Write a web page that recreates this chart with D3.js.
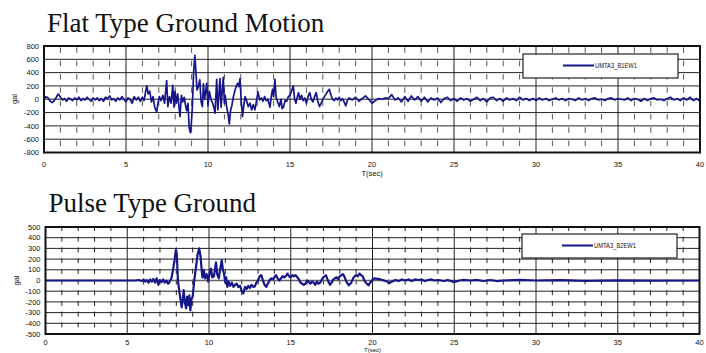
<!DOCTYPE html>
<html>
<head>
<meta charset="utf-8">
<script src="https://cdn.jsdelivr.net/npm/d3@7"></script>
<style>
  body { margin: 0; background: #fff; }
  svg { display: block; }
</style>
</head>
<body>
<svg id="chart" width="706" height="353"></svg>
<script>
// ---- data (gal) ----
const xTicks = [0, 5, 10, 15, 20, 25, 30, 35, 40];
const flatYTicks = [-800, -600, -400, -200, 0, 200, 400, 600, 800];
const pulseYTicks = [-500, -400, -300, -200, -100, 0, 100, 200, 300, 400, 500];

// flat type: 0 .. 6 s, every 0.125 s
const flatStartStep = 0.125;
const flatStart = [0, 40, 20, -30, -50, -20, 30, 80, 30, -10, 10, -30, 20, 0, -20, 20,
  -10, 30, -20, 10, -10, 30, 0, -30, 20, -10, 20, -20, 10, -30, 30, 10,
  50, -10, 10, -30, 20, -10, 40, 0, -40, 20, 0, -60, 40, -10, 30, -30, 30];

// flat type: strong part, [t, gal]
const flatActive = [
  [6.1, -20], [6.2, 120], [6.27, 200], [6.35, 80], [6.45, 120], [6.55, -40], [6.65, 40],
  [6.75, -120], [6.87, -190], [6.95, -60], [7.03, 40], [7.13, -20], [7.25, 60], [7.35, -60],
  [7.48, 280], [7.55, -110], [7.65, 40], [7.75, -60], [7.85, 210], [7.93, -120], [7.99, 120],
  [8.07, -60], [8.15, 80], [8.29, -260], [8.38, 60], [8.45, -40], [8.55, 30], [8.62, -80],
  [8.7, -170], [8.78, -60], [8.85, -420], [8.92, -500], [8.98, -380], [9.05, -100], [9.12, 400],
  [9.2, 660], [9.27, 380], [9.33, 140], [9.4, 180], [9.5, 290], [9.58, -40], [9.66, -110],
  [9.72, 230], [9.8, 0], [9.92, 240], [10.0, -100], [10.08, 120], [10.18, 0], [10.28, -60],
  [10.36, -120], [10.43, -210], [10.53, 300], [10.6, -160], [10.66, 40], [10.73, 310],
  [10.8, -120], [10.86, 100], [10.93, 330], [11.0, -60], [11.05, 60], [11.14, -120],
  [11.22, -220], [11.3, -370], [11.38, -160], [11.45, -100], [11.55, 40], [11.65, 140],
  [11.72, 190], [11.8, 240], [11.88, 190], [11.95, 310], [12.02, 0], [12.1, -260],
  [12.18, -100], [12.26, 40], [12.35, -20], [12.45, -110], [12.56, -60], [12.66, -160],
  [12.76, -80], [12.86, -160], [12.96, -20], [13.05, 110], [13.15, -10], [13.25, 20],
  [13.35, -30], [13.45, 40], [13.55, -20], [13.65, 0], [13.78, -120], [13.87, 60],
  [13.94, 150], [14.0, 40], [14.08, 300], [14.15, 30], [14.25, -40], [14.35, -110],
  [14.45, 0], [14.52, -140], [14.6, -120], [14.7, -20], [14.8, -30], [14.9, 40], [15.0, 60],
  [15.1, 130], [15.2, 200], [15.28, 0], [15.36, -60], [15.45, 40], [15.52, 100], [15.6, 0],
  [15.7, 60], [15.8, -20], [15.9, 20], [16.0, -60], [16.1, 40], [16.2, 100], [16.3, 0],
  [16.4, -40], [16.5, 40], [16.6, 100], [16.68, -20], [16.8, -110], [16.9, -60], [17.0, 0],
  [17.1, 40], [17.2, 80], [17.3, 120], [17.4, 150], [17.5, 60], [17.6, 0], [17.7, -20],
  [17.8, 20], [17.9, -10], [18.0, 30], [18.1, -20], [18.2, 10], [18.3, -40], [18.4, -100],
  [18.5, -20]
];

// flat type: tail from 18.6 s, every 0.2 s
const flatTailStart = 18.6;
const flatTailStep = 0.2;
const flatTail = [20, -10, 30, -30, 10, 50, 0, -60, -20, 10, 0, 20, 10, 70, -10, 20,
  -40, 40, -30, 50, -10, 40, -30, 30, -40, 20, -10, 20, -50, 10, 30, -20,
  10, -30, 20, -10, 10, -30, 0, 30, -20, 10, -40, 20, 30, -20, 10, -30,
  20, -10, 10, -20, 30, -10, 10, -20, 10, -20, 20, -10, 10, -20, 0, 20,
  -10, 10, -20, 10, 0, -20, 20, -10, 10, -20, 10, 20, -10, 0, -20, 10,
  20, -10, 10, 0, -10, 20, -20, 10, 0, -30, 10, -20, 10, 20, -10, 0,
  -20, 10, 30, -10, 10, -20, 20, -10, 30, -20, 10, -30];

// pulse type, [t, gal]
const pulseSeries = [
  [0, 0], [5.5, 0], [5.7, 5], [5.9, -5], [6.0, 10], [6.1, -10], [6.2, 5], [6.3, -20],
  [6.4, 10], [6.5, -10], [6.6, 15], [6.7, -20], [6.8, 20], [6.9, -40], [7.0, 5], [7.1, -15],
  [7.2, 10], [7.3, -20], [7.4, 0], [7.5, -30], [7.6, -10], [7.7, 20], [7.8, 100], [7.9, 200],
  [7.98, 290], [8.03, 250], [8.1, 0], [8.2, -120], [8.33, -250], [8.4, -180], [8.45, -90],
  [8.52, -200], [8.6, -260], [8.66, -150], [8.72, -230], [8.8, -140], [8.86, -280],
  [8.92, -180], [9.0, -150], [9.1, 0], [9.2, 120], [9.3, 240], [9.4, 300], [9.48, 230],
  [9.55, 100], [9.6, 30], [9.68, 100], [9.75, 20], [9.85, 60], [9.95, -10], [10.05, 80],
  [10.12, 110], [10.2, 30], [10.3, 40], [10.43, 170], [10.5, 60], [10.6, 20], [10.7, 120],
  [10.78, 190], [10.85, 100], [10.92, 60], [11.0, -20], [11.05, 30], [11.12, -60],
  [11.2, -10], [11.3, -50], [11.4, -20], [11.5, -60], [11.6, -40], [11.7, -30], [11.8, -60],
  [11.9, -50], [12.0, -100], [12.1, -120], [12.2, -60], [12.3, -80], [12.4, -50], [12.5, -70],
  [12.6, -40], [12.7, -60], [12.8, -55], [12.9, -20], [13.0, 0], [13.1, 40], [13.2, 50],
  [13.3, 0], [13.4, -40], [13.5, -60], [13.6, -30], [13.7, 0], [13.8, 20], [13.9, 10],
  [14.0, 30], [14.1, 50], [14.2, 20], [14.3, 0], [14.4, 20], [14.5, 40], [14.6, 30],
  [14.7, 40], [14.8, 65], [14.9, 40], [15.0, 30], [15.1, 50], [15.2, 40], [15.3, 50],
  [15.4, 30], [15.5, 10], [15.6, -20], [15.7, -30], [15.8, -40], [15.9, -30], [16.0, 0],
  [16.1, -10], [16.2, -30], [16.3, -10], [16.4, -20], [16.5, -40], [16.6, -10], [16.7, -30],
  [16.8, -20], [16.9, 10], [17.0, 30], [17.15, 50], [17.3, -10], [17.4, -40], [17.5, -20],
  [17.6, 10], [17.7, 20], [17.8, 30], [17.9, 10], [18.0, 40], [18.2, 60], [18.3, 30],
  [18.4, -10], [18.55, -45], [18.7, -20], [18.85, 30], [19.0, 50], [19.1, 40], [19.2, 65],
  [19.3, 50], [19.4, 40], [19.5, 0], [19.6, -20], [19.75, -45], [19.9, -10], [20.1, 20],
  [20.3, 15], [20.5, 10], [20.7, 0], [20.9, -10], [21.0, -25], [21.2, -10], [21.4, 5],
  [21.6, -5], [21.8, 10], [22.0, 0], [22.2, 10], [22.4, -5], [22.6, 10], [22.8, 5], [23.0, 10],
  [23.2, -5], [23.4, 5], [23.6, 10], [23.8, 0], [24.0, 5], [24.4, -5], [24.6, 5], [25.0, -15],
  [25.3, 0], [25.6, 5], [26.0, 0], [26.4, 5], [26.8, -5], [27.2, 5], [27.6, -5], [28.0, 0],
  [29.0, 5], [30.0, 0], [31.5, 3], [33.0, -3], [35.0, 2], [37.0, -2], [40.0, 0]
];

const flatSeries = flatStart.map((v, i) => [i * flatStartStep, v])
  .concat(flatActive)
  .concat(flatTail.map((v, i) => [flatTailStart + i * flatTailStep, v]));

// ---- drawing ----
const svg = d3.select("#chart");
const lineColor = "#16168a";
const tickFont = "'Liberation Sans', Arial, sans-serif";

function drawPanel(cfg) {
  const x = d3.scaleLinear().domain([0, 40]).range([cfg.left, cfg.right]);
  const y = d3.scaleLinear().domain([cfg.yTicks[0], cfg.yTicks[cfg.yTicks.length - 1]])
    .range([cfg.bottom, cfg.top]);
  const g = svg.append("g");

  svg.append("text")
    .attr("x", cfg.left + 3)
    .attr("y", cfg.titleY)
    .attr("font-family", "'Liberation Serif', 'Times New Roman', serif")
    .attr("font-size", 27)
    .attr("fill", "#111")
    .text(cfg.title);

  // minor (1 s) dashed verticals
  const band = Math.abs(y(cfg.yTicks[1]) - y(cfg.yTicks[0]));
  g.append("g").selectAll("line")
    .data(d3.range(1, 40).filter(d => d % 5 !== 0))
    .join("line")
    .attr("x1", d => x(d)).attr("x2", d => x(d))
    .attr("y1", cfg.top).attr("y2", cfg.bottom)
    .attr("stroke", cfg.minorColor)
    .attr("stroke-width", 1)
    .attr("stroke-dasharray", `${cfg.dash},${band - cfg.dash}`)
    .attr("stroke-dashoffset", cfg.dashOffset);

  // horizontal grid
  g.append("g").selectAll("line")
    .data(cfg.yTicks)
    .join("line")
    .attr("x1", cfg.left).attr("x2", cfg.right)
    .attr("y1", d => y(d)).attr("y2", d => y(d))
    .attr("stroke", d => d === 0 ? "#666" : "#222")
    .attr("stroke-width", d => d === 0 ? 1.4 : 1);

  // major (5 s) verticals
  g.append("g").selectAll("line")
    .data(xTicks)
    .join("line")
    .attr("x1", d => x(d)).attr("x2", d => x(d))
    .attr("y1", cfg.top).attr("y2", cfg.bottom)
    .attr("stroke", "#222")
    .attr("stroke-width", 1);

  const clipId = "clip" + cfg.id;
  svg.append("clipPath").attr("id", clipId)
    .append("rect")
    .attr("x", cfg.left).attr("y", cfg.top)
    .attr("width", cfg.right - cfg.left).attr("height", cfg.bottom - cfg.top);

  const line = d3.line().x(d => x(d[0])).y(d => y(d[1]));
  g.append("path")
    .datum(cfg.data)
    .attr("clip-path", `url(#${clipId})`)
    .attr("fill", "none")
    .attr("stroke", lineColor)
    .attr("stroke-width", cfg.lineWidth)
    .attr("stroke-linejoin", "round")
    .attr("d", line);

  // frame
  g.append("rect")
    .attr("x", cfg.left).attr("y", cfg.top)
    .attr("width", cfg.right - cfg.left).attr("height", cfg.bottom - cfg.top)
    .attr("fill", "none")
    .attr("stroke", "#111")
    .attr("stroke-width", 2);

  // y tick labels
  g.append("g").selectAll("text")
    .data(cfg.yTicks)
    .join("text")
    .attr("x", cfg.left - 5)
    .attr("y", d => y(d))
    .attr("dy", "0.35em")
    .attr("text-anchor", "end")
    .attr("font-family", tickFont)
    .attr("font-size", 7.5)
    .attr("fill", "#111")
    .text(d => d);

  // x tick labels
  g.append("g").selectAll("text")
    .data(xTicks)
    .join("text")
    .attr("x", d => x(d))
    .attr("y", cfg.xLabelY)
    .attr("text-anchor", "middle")
    .attr("font-family", tickFont)
    .attr("font-size", 7.5)
    .attr("fill", "#111")
    .text(d => d);

  g.append("text")
    .attr("x", x(20))
    .attr("y", cfg.tLabelY)
    .attr("text-anchor", "middle")
    .attr("font-family", tickFont)
    .attr("font-size", cfg.tLabelSize)
    .attr("fill", "#111")
    .text("T(sec)");

  g.append("text")
    .attr("transform", `translate(${cfg.gal[0]},${cfg.gal[1]}) rotate(-90)`)
    .attr("text-anchor", "middle")
    .attr("font-family", tickFont)
    .attr("font-size", 7.5)
    .attr("fill", "#111")
    .text("gal");

  // legend
  const lg = g.append("g");
  lg.append("rect")
    .attr("x", cfg.legend[0]).attr("y", cfg.legend[1])
    .attr("width", 155).attr("height", 24)
    .attr("fill", "#fff")
    .attr("stroke", "#222")
    .attr("stroke-width", 1.2);
  lg.append("line")
    .attr("x1", cfg.legend[0] + 40).attr("x2", cfg.legend[0] + 71)
    .attr("y1", cfg.legend[1] + 11.5).attr("y2", cfg.legend[1] + 11.5)
    .attr("stroke", lineColor)
    .attr("stroke-width", 2);
  lg.append("text")
    .attr("x", cfg.legend[0] + 72)
    .attr("y", cfg.legend[1] + 11.5)
    .attr("dy", "0.35em")
    .attr("font-family", tickFont)
    .attr("font-size", 8)
    .attr("textLength", 42)
    .attr("lengthAdjust", "spacingAndGlyphs")
    .attr("fill", "#111")
    .text(cfg.legendLabel);
}

drawPanel({
  id: "flat", title: "Flat Type Ground Motion", titleY: 31.5,
  left: 44, right: 700, top: 46, bottom: 152.5,
  yTicks: flatYTicks, data: flatSeries, lineWidth: 1.7,
  minorColor: "#555", dash: 5.5, dashOffset: -1.4,
  xLabelY: 167, tLabelY: 176, tLabelSize: 7.5,
  gal: [17, 99], legend: [523, 54], legendLabel: "UMTA3_B1EW1"
});

drawPanel({
  id: "pulse", title: "Pulse Type Ground", titleY: 211.5,
  left: 45.5, right: 699.5, top: 227, bottom: 334,
  yTicks: pulseYTicks, data: pulseSeries, lineWidth: 2.2,
  minorColor: "#222", dash: 5, dashOffset: 1,
  xLabelY: 344.5, tLabelY: 351.7, tLabelSize: 6,
  gal: [19, 280.5], legend: [522, 234], legendLabel: "UMTA3_B2EW1"
});
</script>
</body>
</html>
